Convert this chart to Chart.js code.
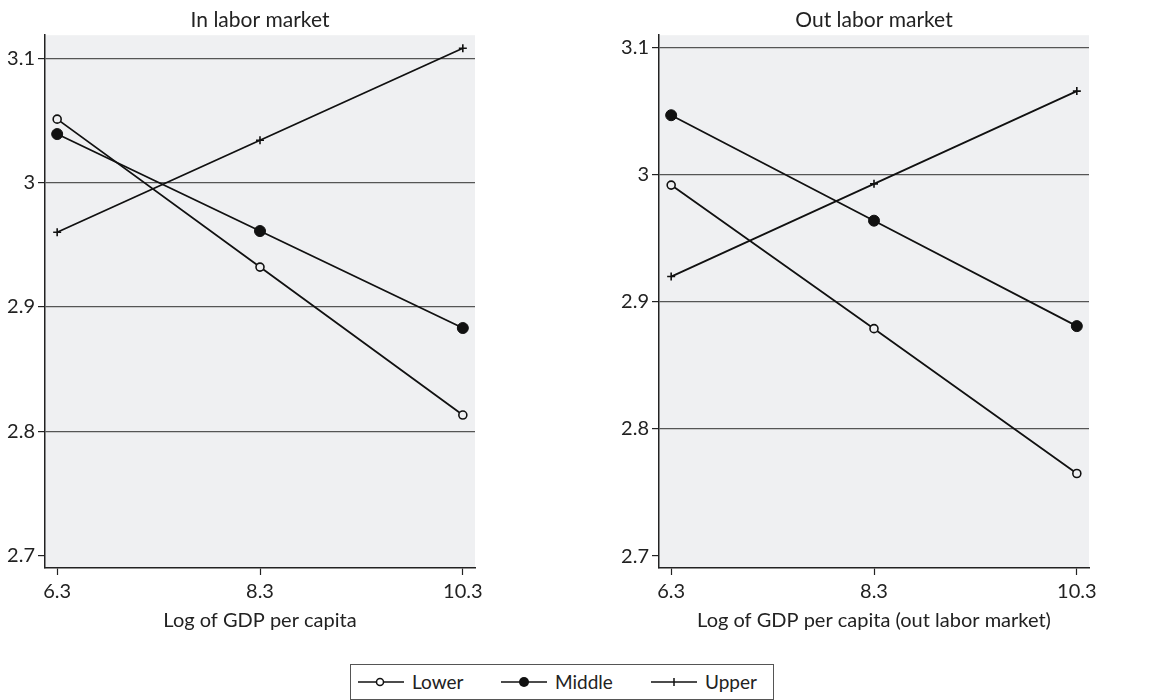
<!DOCTYPE html>
<html>
<head>
<meta charset="utf-8">
<script src="https://cdn.jsdelivr.net/npm/chart.js@4.4.0/dist/chart.umd.min.js"></script>
<style>
    body { margin: 0; background: #fff; width: 1158px; height: 700px; position: relative; overflow: hidden; font-family: Lato, sans-serif; }
    .panel { position: absolute; top: 0; height: 640px; }
    #panel-in { left: 0; width: 578px; }
    #panel-out { left: 578px; width: 580px; }
    #legend {
        position: absolute; left: 350px; top: 664px; width: 422px; height: 34px;
        border: 1px solid #555; font-size: 19px; color: #222;
    }
    .item { position: absolute; display: flex; align-items: center; top: 5px; }
    .item svg { margin-right: 8px; }
</style>
</head>
<body>
<div class="panel" id="panel-in"><canvas id="chartIn"></canvas></div>
<div class="panel" id="panel-out"><canvas id="chartOut"></canvas></div>
<div id="legend">
    <div class="item" style="left:7px">
        <svg width="46" height="14"><line x1="0" y1="7" x2="46" y2="7" stroke="#111" stroke-width="1.6"/><circle cx="22" cy="7" r="3.5" fill="#fff" stroke="#111" stroke-width="1.5"/></svg>
        <span>Lower</span>
    </div>
    <div class="item" style="left:150px">
        <svg width="46" height="14"><line x1="0" y1="7" x2="46" y2="7" stroke="#111" stroke-width="1.6"/><circle cx="23" cy="7" r="5" fill="#111"/></svg>
        <span>Middle</span>
    </div>
    <div class="item" style="left:300px">
        <svg width="46" height="14"><line x1="0" y1="7" x2="46" y2="7" stroke="#111" stroke-width="1.6"/><line x1="23" y1="3" x2="23" y2="11" stroke="#111" stroke-width="1.5"/></svg>
        <span>Upper</span>
    </div>
</div>
<script>
// x positions (log of GDP per capita)
const gdpLevels = [6.3, 8.3, 10.3];
const yTicks = [2.7, 2.8, 2.9, 3.0, 3.1];

// In labor market
const inLower = [3.051, 2.932, 2.813];
const inMiddle = [3.039, 2.961, 2.883];
const inUpper = [2.960, 3.034, 3.108];

// Out labor market
const outLower = [2.992, 2.879, 2.765];
const outMiddle = [3.047, 2.964, 2.881];
const outUpper = [2.920, 2.993, 3.066];

const plotBg = '#eff0f2';
const ink = '#111';
const fontFamily = 'Lato, sans-serif';

const plotBackground = {
    id: 'plotBackground',
    beforeDraw(chart) {
        const { ctx, chartArea } = chart;
        ctx.save();
        ctx.fillStyle = plotBg;
        ctx.fillRect(chartArea.left, chartArea.top, chartArea.right - chartArea.left, chartArea.bottom - chartArea.top);
        ctx.restore();
    }
};

function toPoints(values) {
    return values.map((v, i) => ({ x: gdpLevels[i], y: v }));
}

function buildChart(canvasId, title, xTitle, series, yMin, yMax, padLeft, padRight) {
    const ctx = document.getElementById(canvasId).getContext('2d');
    const [lower, middle, upper] = series;

    return new Chart(ctx, {
        type: 'line',
        data: {
            datasets: [
                {
                    label: 'Lower', data: toPoints(lower),
                    borderColor: ink, borderWidth: 1.8,
                    pointStyle: 'circle', pointRadius: 4, pointBorderWidth: 1.6,
                    pointBackgroundColor: plotBg, pointBorderColor: ink
                },
                {
                    label: 'Middle', data: toPoints(middle),
                    borderColor: ink, borderWidth: 1.8,
                    pointStyle: 'circle', pointRadius: 5.5, pointBorderWidth: 1,
                    pointBackgroundColor: ink, pointBorderColor: ink
                },
                {
                    label: 'Upper', data: toPoints(upper),
                    borderColor: ink, borderWidth: 1.8,
                    pointStyle: 'cross', pointRadius: 4, pointBorderWidth: 1.6,
                    pointBorderColor: ink
                }
            ]
        },
        options: {
            responsive: true,
            maintainAspectRatio: false,
            animation: false,
            layout: { padding: { left: padLeft, right: padRight, top: 0, bottom: 0 } },
            plugins: {
                legend: { display: false },
                tooltip: { enabled: false },
                title: {
                    display: true, text: title, fullSize: false,
                    color: '#222', font: { family: fontFamily, size: 21, weight: 'normal' },
                    padding: { top: 8, bottom: 2 }
                }
            },
            scales: {
                x: {
                    type: 'linear', min: 6.18, max: 10.42,
                    afterBuildTicks: s => { s.ticks = gdpLevels.map(v => ({ value: v })); },
                    afterFit: s => { s.height = 72; },
                    grid: { drawOnChartArea: false, tickLength: 7, tickColor: '#222', tickWidth: 1.2 },
                    border: { color: '#222', width: 1.5 },
                    ticks: {
                        color: '#222', padding: 5, maxRotation: 0,
                        font: { family: fontFamily, size: 20 },
                        callback: v => String(v)
                    },
                    title: {
                        display: true, text: xTitle, color: '#222',
                        font: { family: fontFamily, size: 20 },
                        padding: { top: 0, bottom: 7 }
                    }
                },
                y: {
                    min: yMin, max: yMax,
                    afterBuildTicks: s => { s.ticks = yTicks.map(v => ({ value: v })); },
                    afterFit: s => { s.width = 45; },
                    grid: {
                        color: c => c.index === 0 ? 'rgba(0,0,0,0)' : '#555',
                        lineWidth: 1.2, tickLength: 7, tickColor: '#222', tickWidth: 1.2
                    },
                    border: { color: '#222', width: 1.5 },
                    ticks: {
                        color: '#222', padding: 3,
                        font: { family: fontFamily, size: 20 },
                        callback: v => (Math.round(v * 10) / 10).toString()
                    }
                }
            }
        },
        plugins: [plotBackground]
    });
}

buildChart('chartIn', 'In labor market', 'Log of GDP per capita',
    [inLower, inMiddle, inUpper], 2.690, 3.1185, 0, 103);
buildChart('chartOut', 'Out labor market', 'Log of GDP per capita (out labor market)',
    [outLower, outMiddle, outUpper], 2.6906, 3.110, 36, 69);
</script>
</body>
</html>
